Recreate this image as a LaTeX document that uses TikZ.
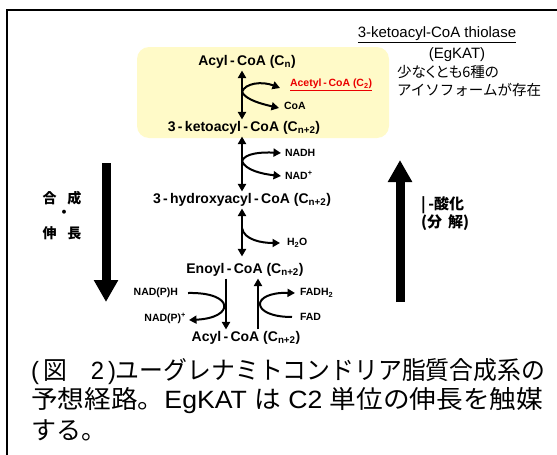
\documentclass[tikz,border=0pt]{standalone}
\usepackage{fontspec}
\usepackage{graphicx}
\setmainfont{Liberation Sans}
\newfontfamily\cjk{Noto Sans CJK JP}
\newfontfamily\cjkp{Noto Sans CJK JP}[RawFeature=+palt]
\usetikzlibrary{arrows.meta}
\definecolor{boxyellow}{RGB}{255,250,200}
\definecolor{acred}{RGB}{235,0,0}
\tikzset{
  lbl/.style={inner sep=0pt, outer sep=2pt, font=\fontsize{14}{16}\selectfont\bfseries},
  sm/.style={inner sep=0pt, outer sep=0pt, font=\fontsize{10.5}{12}\selectfont\bfseries},
  rx/.style={line width=2pt, -{Triangle[length=7.5pt,width=8pt]}},
  rxx/.style={line width=2pt, {Triangle[length=7.5pt,width=8pt]}-{Triangle[length=7.5pt,width=8pt]}},
  bigarrow/.style={line width=9pt, -{Triangle[length=22pt,width=23pt]}},
  note/.style={inner sep=0pt, font=\fontsize{15}{17}\selectfont},
  jnote/.style={inner sep=0pt, anchor=west, font=\fontsize{14.5}{17}\cjk},
  jlab/.style={inner sep=0pt, font=\fontsize{14}{16}\cjk\bfseries},
  jlabr/.style={inner sep=0pt, anchor=west, font=\fontsize{15}{17}\cjk\bfseries},
  captext/.style={inner sep=0pt, anchor=west, font=\fontsize{25}{29}\selectfont},
}
\begin{document}
\begin{tikzpicture}[x=1pt,y=-1pt]
\useasboundingbox (0,0) rectangle (557,455);
% frame
\draw[line width=2pt] (557,10) -- (7,10) -- (7,455);
% yellow box
\fill[boxyellow, rounded corners=12pt] (137,47) rectangle (389,138);

% guide coordinates
\coordinate (sp) at (242,0);
\coordinate (xl) at (226,0);
\coordinate (xr) at (258,0);

% main metabolites
\node[lbl] (acyl) at (247,62) {Acyl\,-\,CoA (C\textsubscript{n})};
\node[lbl] (keto) at (244,128) {3\,-\,ketoacyl\,-\,CoA (C\textsubscript{n+2})};
\node[lbl] (hyd) at (242,200) {3\,-\,hydroxyacyl\,-\,CoA (C\textsubscript{n+2})};
\node[lbl] (eno) at (245,270) {Enoyl\,-\,CoA (C\textsubscript{n+2})};
\node[lbl] (acyl2) at (246,338) {Acyl\,-\,CoA (C\textsubscript{n+2})};

% side products
\node[sm, anchor=west, text=acred] (acet) at (290,85) {\underline{Acetyl\,-\,CoA (C\textsubscript{2})}};
\node[sm, anchor=west] (coa) at (284,106) {CoA};
\node[sm, anchor=west] (nadh) at (285,153) {NADH};
\node[sm, anchor=west] (nadp) at (285,175) {NAD\textsuperscript{+}};
\node[sm, anchor=west] (h2o) at (287,243) {H\textsubscript{2}O};
\node[sm, anchor=east] (nph) at (178,293) {NAD(P)H};
\node[sm, anchor=east] (npp) at (186,318) {NAD(P)\textsuperscript{+}};
\node[sm, anchor=west] (fadh) at (300,293) {FADH\textsubscript{2}};
\node[sm, anchor=west] (fad) at (300,317) {FAD};

% vertical reaction arrows
\draw[rxx] (acyl.south -| sp) -- (keto.north -| sp);
\draw[rxx] (keto.south -| sp) -- (hyd.north -| sp);
\draw[rxx, shorten >=5pt] (hyd.south -| sp) -- (eno.north -| sp);
\draw[rx] (eno.south -| xl) -- (acyl2.north -| xl);
\draw[rx] (acyl2.north -| xr) -- (eno.south -| xr);

% branch curves
\coordinate (s1) at (242,92);
\coordinate (s2) at (242,161);
\coordinate (s3) at (242,228);
\draw[rx] (s1) .. controls (245,83) and (262,81) .. ([xshift=-10pt,yshift=-3pt]acet.west);
\draw[rx] (s1) .. controls (246,100) and (262,104) .. ([xshift=-5pt,yshift=-2pt]coa.west);
\draw[rx] (s2) .. controls (245,153) and (262,152) .. ([xshift=-4pt]nadh.west);
\draw[rx] (s2) .. controls (245,170) and (262,174) .. ([xshift=-4pt,yshift=-1pt]nadp.west);
\draw[rx] (s3) .. controls (244,240) and (262,243) .. ([xshift=-7pt]h2o.west);
\draw[rx] ([xshift=10pt]nph.east) .. controls (235,292) and (235,318) .. ([xshift=3pt,yshift=-2pt]npp.east);
\draw[rx] ([xshift=-8pt]fad.west) .. controls (250,317) and (250,292) .. ([xshift=-5pt]fadh.west);

% big arrows
\draw[bigarrow] (106,163) -- (106,302);
\draw[bigarrow] (400,302) -- (400,160);

% side labels
\node[jlab] (gousei) at (62,198) {合\hspace{11pt}成};
\node[jlab] (dot) at (64,214) {・};
\node[jlab] (shinchou) at (62,233) {伸\hspace{11pt}長};
\node[jlabr] (beta) at (421,205) {|\,-酸化};
\node[jlabr] (bunkai) at (421,223) {(分\hspace{6pt}解)};

% enzyme note
\node[note] (thio) at (437,35) {\underline{3-ketoacyl-CoA thiolase}};
\node[note] (egkat) at (457,55) {(EgKAT)};
\node[jnote, font=\fontsize{14.5}{17}\cjkp] (jp1) at (397,72) {少なくとも6種の};
\node[jnote] (jp2) at (397,90) {アイソフォームが存在};

% caption
\node[captext] (c1) at (31,372) {\resizebox{514pt}{\height}{(\,{\cjk 図}\quad 2\,){\cjk ユーグレナミトコンドリア脂質合成系の}}};
\node[captext] (c2) at (31,401) {\resizebox{512pt}{\height}{{\cjk 予想経路。}EgKAT {\cjk は} C2 {\cjk 単位の伸長を触媒}}};
\node[captext] (c3) at (31,430) {{\cjk する。}};
\end{tikzpicture}
\end{document}
